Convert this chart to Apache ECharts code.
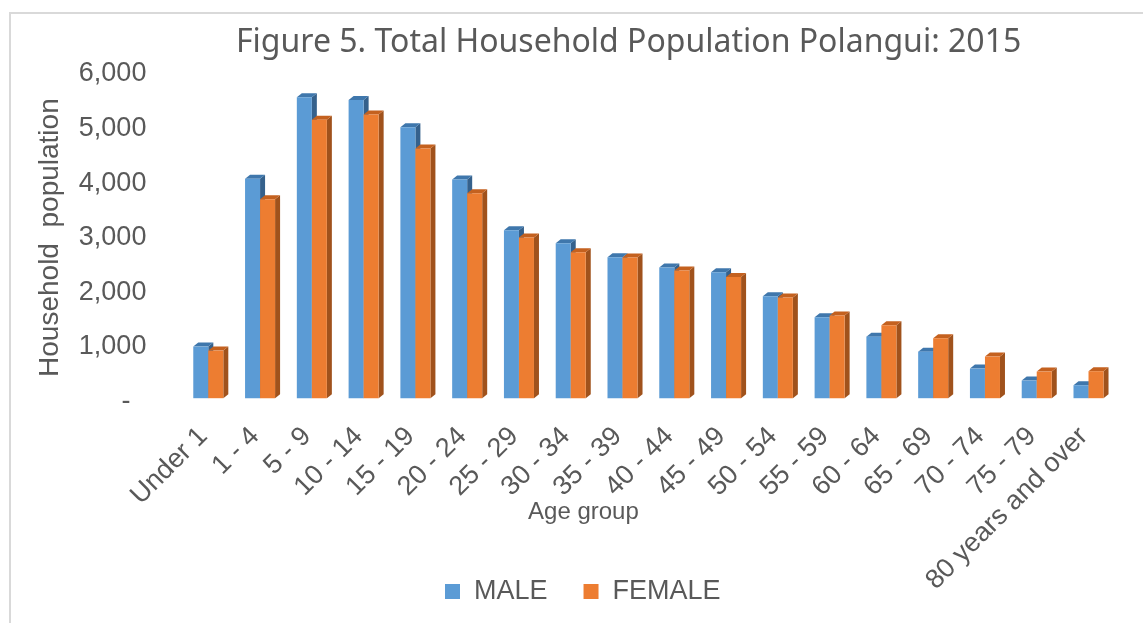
<!DOCTYPE html>
<html>
<head>
<meta charset="utf-8">
<script src="https://cdn.jsdelivr.net/npm/echarts@6/dist/echarts.min.js"></script>
<style>
html,body{margin:0;padding:0;background:#fff;}
#chart{width:1143px;height:623px;}
</style>
</head>
<body>
<div id="chart"></div>
<script>
// ---- data ----
const categories = ['Under 1','1 - 4','5 - 9','10 - 14','15 - 19','20 - 24','25 - 29','30 - 34','35 - 39','40 - 44','45 - 49','50 - 54','55 - 59','60 - 64','65 - 69','70 - 74','75 - 79','80 years and over'];
const male   = [946, 4022, 5520, 5470, 4970, 4009, 3081, 2842, 2586, 2395, 2311, 1871, 1485, 1129, 854, 543, 323, 238];
const female = [873, 3649, 5104, 5201, 4577, 3759, 2945, 2677, 2580, 2340, 2224, 1845, 1515, 1339, 1100, 763, 488, 495];
const yTicks = [0, 1000, 2000, 3000, 4000, 5000, 6000];

// ---- style ----
const TXT = '#595959';
const FONT = "'Liberation Sans', Arial, sans-serif";
const FACE = {
  male:   {front:'#5B9BD5', top:'#3F77AC', side:'#35618C'},
  female: {front:'#ED7D31', top:'#C4611F', side:'#A0521C'}
};
const DEPTH_X = 5, DEPTH_Y = 4, LIFT = 3, FRONT_FRAC = 0.29;

function make3D(side, faces) {
  return function (params, api) {
    const i = api.value(0), v = api.value(1);
    const top = api.coord([i, v]);
    const base = api.coord([i, 0]);
    const band = api.size([1, 0])[0];
    const w = band * FRONT_FRAC;
    const cx = top[0];
    const xl = side === 'male' ? cx - w : cx;
    const xr = xl + w;
    const yt = top[1] - LIFT, yb = base[1] - LIFT;
    return {
      type: 'group',
      children: [
        {type:'polygon', shape:{points:[[xr,yt],[xr+DEPTH_X,yt-DEPTH_Y],[xr+DEPTH_X,yb-DEPTH_Y],[xr,yb]]}, style:{fill:faces.side}},
        {type:'polygon', shape:{points:[[xl,yt],[xl+DEPTH_X,yt-DEPTH_Y],[xr+DEPTH_X,yt-DEPTH_Y],[xr,yt]]}, style:{fill:faces.top}},
        {type:'rect', shape:{x:xl, y:yt, width:w, height:yb-yt}, style:{fill:faces.front}}
      ]
    };
  };
}

const chart = echarts.init(document.getElementById('chart'), null, {renderer:'canvas'});
chart.setOption({
  animation: false,
  backgroundColor: '#ffffff',
  graphic: [{
    type:'rect', z:-10, silent:true,
    shape:{x:10, y:13, width:2000, height:1000},
    style:{fill:'none', stroke:'#D9D9D9', lineWidth:2}
  }],
  title: {
    text: 'Figure 5. Total Household Population Polangui: 2015',
    left: 236, top: 27, padding: 0,
    textStyle: {fontFamily:"'Noto Sans', 'Open Sans', sans-serif", fontSize:32, fontWeight:'normal', color:TXT}
  },
  legend: {
    data: ['MALE','FEMALE'],
    left: 445, top: 578, padding: 0,
    icon: 'rect', itemWidth: 15, itemHeight: 15, itemGap: 36,
    textStyle: {fontFamily:FONT, fontSize:27, color:TXT, padding:[0,0,0,9]}
  },
  grid: {left:182.4, right:1143-1114.4, top:74, bottom:623-401.2, containLabel:false},
  xAxis: {
    type:'category', data: categories,
    axisLine:{show:false}, axisTick:{show:false}, splitLine:{show:false},
    axisLabel:{rotate:45, interval:0, margin:26, padding:[0,7,0,0], fontFamily:FONT, fontSize:27, color:TXT},
    name:'Age group', nameLocation:'middle', nameGap:99, nameMoveOverlap:false,
    nameTextStyle:{fontFamily:FONT, fontSize:24, color:TXT, padding:[0,130,0,0]}
  },
  yAxis: {
    type:'value', min: yTicks[0], max: yTicks[yTicks.length-1], interval: 1000,
    axisLine:{show:false}, axisTick:{show:false}, splitLine:{show:false},
    axisLabel:{
      margin:36, fontFamily:FONT, fontSize:27, color:TXT,
      formatter: function (v) { return v === 0 ? '{z|-}' : v.toLocaleString('en-US'); },
      rich:{z:{fontFamily:FONT, fontSize:27, color:TXT, padding:[0,16,0,0]}}
    },
    name:'Household  population', nameLocation:'middle', nameGap:118,
    nameTextStyle:{fontFamily:FONT, fontSize:28, color:TXT}
  },
  series: [
    {name:'MALE', type:'custom', renderItem: make3D('male', FACE.male), itemStyle:{color:FACE.male.front},
     encode:{x:0, y:1}, data: male.map((v,i)=>[i,v])},
    {name:'FEMALE', type:'custom', renderItem: make3D('female', FACE.female), itemStyle:{color:FACE.female.front},
     encode:{x:0, y:1}, data: female.map((v,i)=>[i,v])}
  ]
});
</script>
</body>
</html>
